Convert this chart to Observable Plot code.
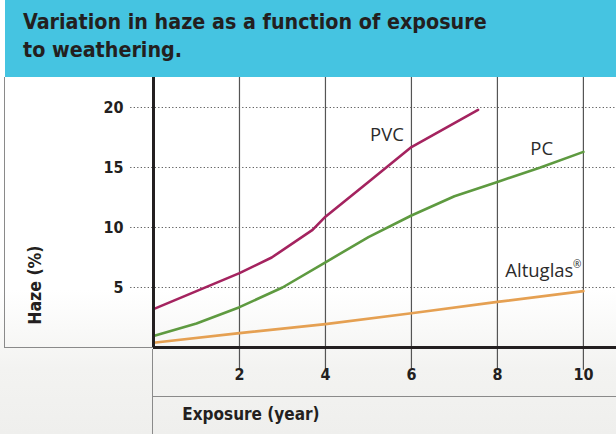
<!DOCTYPE html>
<html><head><meta charset="utf-8">
<script src="https://cdn.jsdelivr.net/npm/d3@7"></script>
<script src="https://cdn.jsdelivr.net/npm/@observablehq/plot@0.6"></script>
<style>
body{margin:0;background:#fff;}
#wrap{position:relative;width:616px;height:434px;overflow:hidden;background:#fff;}
#title{position:absolute;left:5px;top:0;width:611px;height:77px;background:#45C4E1;box-sizing:border-box;padding:8px 0 0 18px;font-family:"DejaVu Sans Condensed","DejaVu Sans",sans-serif;font-weight:bold;font-size:21.3px;line-height:28px;color:#231f20;}
#bg{position:absolute;left:0;top:290px;width:616px;height:144px;background:linear-gradient(to bottom,rgba(243,243,241,0),#f3f3f1 55%,#efefed);}
#chart{position:absolute;left:0;top:77px;}
.ln{position:absolute;background:#8a8a8a;}
</style></head>
<body><div id="wrap">
<div id="bg"></div>
<div id="title">Variation in haze as a function of exposure<br>to weathering.</div>
<div id="chart"></div>
<div class="ln" style="left:4px;top:77px;width:1px;height:271px"></div>
<div class="ln" style="left:4px;top:347px;width:149px;height:1px"></div>
<div class="ln" style="left:152px;top:349px;width:1px;height:85px"></div>
<div class="ln" style="left:153px;top:396px;width:463px;height:1px"></div>
</div>
<script>
const pvcX = [0, 1, 2, 2.75, 3.7, 4, 5, 6, 7.55];
const pvcY = [3.2, 4.7, 6.2, 7.5, 9.8, 10.9, 13.8, 16.7, 19.8];
const pcX = [0, 1, 2, 3, 4, 5, 6, 7, 8, 9, 10];
const pcY = [0.95, 2.0, 3.36, 5.0, 7.1, 9.2, 11.0, 12.6, 13.8, 15.0, 16.3];
const altX = [0, 2, 4, 6, 8, 10];
const altY = [0.4, 1.2, 1.95, 2.85, 3.8, 4.7];
const xTicks = [2, 4, 6, 8, 10];
const yTicks = [5, 10, 15, 20];
const seriesNames = ["PVC", "PC", "Altuglas"];
const seriesColors = ["#A4235F", "#5E9A40", "#E5A052"];

const rows = [];
pvcX.forEach((x, i) => rows.push({series: "PVC", x, y: pvcY[i]}));
pcX.forEach((x, i) => rows.push({series: "PC", x, y: pcY[i]}));
altX.forEach((x, i) => rows.push({series: "Altuglas", x, y: altY[i]}));

const seriesLabels = [
  {text: "PVC", x: 5.43, y: 17.7},
  {text: "PC", x: 9.03, y: 16.5}
];

const tickFont = "'DejaVu Sans Condensed', sans-serif";
const titleFont = "'DejaVu Sans Condensed', 'DejaVu Sans', sans-serif";
const labelFont = "'Open Sans', sans-serif";

const chart = Plot.plot({
  width: 616, height: 357,
  marginLeft: 153, marginRight: 0, marginTop: 0, marginBottom: 87,
  x: {domain: [0, 10.77]},
  y: {domain: [0, 22.5]},
  color: {domain: seriesNames, range: seriesColors},
  style: {background: "transparent", fontFamily: tickFont, overflow: "visible"},
  marks: [
    Plot.ruleY(yTicks, {x1: -0.53, x2: 10.77, stroke: "#555", strokeWidth: 1.2, strokeDasharray: "1.2,2.3"}),
    Plot.ruleX(xTicks, {y1: -1.9, y2: 22.5, stroke: "#555", strokeWidth: 1.2}),
    Plot.line(rows, {x: "x", y: "y", z: "series", stroke: "series", strokeWidth: 2.6}),
    Plot.ruleY([0], {x1: 0, x2: 10.77, stroke: "#231f20", strokeWidth: 3}),
    Plot.ruleX([0], {y1: 0, y2: 22.5, stroke: "#231f20", strokeWidth: 3}),
    Plot.axisY(yTicks, {tickSize: 0, tickPadding: 30, fontSize: 16, fontWeight: "bold", fill: "#231f20", label: null}),
    Plot.axisX(xTicks, {tickSize: 0, tickPadding: 21, fontSize: 16, fontWeight: "bold", fill: "#231f20", label: null}),
    Plot.text(seriesLabels, {x: "x", y: "y", text: "text", fontSize: 18.5, fontFamily: labelFont, fill: "#2b2b2b"}),
    Plot.text(["Altuglas"], {x: 10, y: 6.4, text: d => d, textAnchor: "end", dx: -10, fontSize: 18.5, fontFamily: labelFont, fill: "#2b2b2b"}),
    Plot.text(["®"], {x: 10, y: 6.4, text: d => d, textAnchor: "end", dx: -2, dy: -6, fontSize: 10, fontFamily: labelFont, fill: "#2b2b2b"}),
    Plot.text(["Haze (%)"], {x: -2.75, y: 5.2, text: d => d, rotate: -90, fontSize: 17.5, fontWeight: "bold", fontFamily: titleFont, fill: "#231f20"}),
    Plot.text(["Exposure (year)"], {x: 0.67, y: -5.6, text: d => d, textAnchor: "start", fontSize: 17, fontWeight: "bold", fontFamily: titleFont, fill: "#231f20"})
  ]
});
document.getElementById("chart").appendChild(chart);
</script>
</body></html>
